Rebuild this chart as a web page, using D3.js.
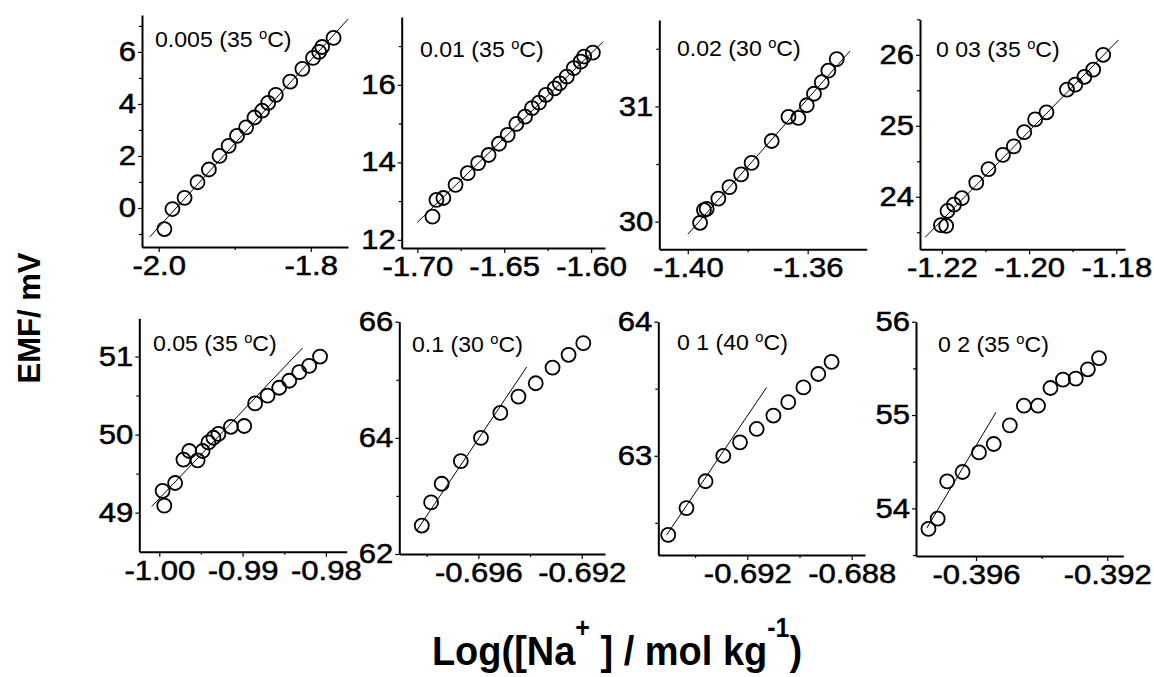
<!DOCTYPE html>
<html>
<head>
<meta charset="utf-8">
<script src="https://cdn.jsdelivr.net/npm/d3@7"></script>
<style>
    body { margin: 0; background: #fff; }
    svg { display: block; font-family: "Liberation Sans", Arial, sans-serif; }
</style>
</head>
<body>
<svg id="chart" width="1154" height="677"></svg>
<script>
// ---- data (x = log m(Na+), y = EMF / mV) ----
const panelLabels = ["0.005", "0.01", "0.02", "0 03", "0.05", "0.1", "0 1", "0 2"]
const panelTemps = ["35", "35", "30", "35", "35", "30", "40", "35"]

const x005 = [-1.9925, -1.982, -1.966, -1.949, -1.934, -1.920, -1.908, -1.897, -1.885, -1.874, -1.864, -1.856, -1.846, -1.827, -1.811, -1.797, -1.789, -1.785, -1.770]
const y005 = [-0.81, -0.04, 0.39, 0.99, 1.48, 2.0, 2.39, 2.77, 3.10, 3.48, 3.74, 4.04, 4.35, 4.86, 5.35, 5.77, 6.0, 6.19, 6.54]
const x01 = [-1.6913, -1.689, -1.685, -1.678, -1.671, -1.665, -1.659, -1.653, -1.648, -1.643, -1.638, -1.634, -1.630, -1.626, -1.621, -1.618, -1.614, -1.610, -1.606, -1.604, -1.599]
const y01 = [12.60, 13.03, 13.08, 13.42, 13.72, 13.98, 14.19, 14.48, 14.71, 14.99, 15.18, 15.40, 15.54, 15.74, 15.91, 16.04, 16.21, 16.43, 16.60, 16.73, 16.83]
const x02 = [-1.3959, -1.3946, -1.3937, -1.3898, -1.3861, -1.3822, -1.3787, -1.3720, -1.3664, -1.3631, -1.3603, -1.3579, -1.3553, -1.3531, -1.3503]
const y02 = [29.99, 30.10, 30.11, 30.20, 30.30, 30.41, 30.51, 30.70, 30.91, 30.90, 31.01, 31.11, 31.21, 31.31, 31.41]
const x03 = [-1.2202, -1.2190, -1.2187, -1.2172, -1.2154, -1.2121, -1.2093, -1.2060, -1.2035, -1.2011, -1.1986, -1.1960, -1.1913, -1.1894, -1.1873, -1.1853, -1.1830]
const y03 = [23.60, 23.59, 23.80, 23.89, 23.98, 24.20, 24.39, 24.59, 24.71, 24.91, 25.09, 25.19, 25.51, 25.58, 25.69, 25.79, 26.0]
const x05 = [-0.9994, -0.9996, -0.9981, -0.9971, -0.9964, -0.9954, -0.9948, -0.9941, -0.9935, -0.9929, -0.9914, -0.9898, -0.9885, -0.9870, -0.9856, -0.9844, -0.9832, -0.9820, -0.9807]
const y05 = [49.09, 49.28, 49.38, 49.68, 49.79, 49.67, 49.79, 49.90, 49.96, 50.01, 50.10, 50.11, 50.40, 50.50, 50.60, 50.69, 50.80, 50.88, 51.0]
const x1a = [-0.69819, -0.69783, -0.69742, -0.69668, -0.69590, -0.69515, -0.69445, -0.69378, -0.69313, -0.69251, -0.69194]
const y1a = [62.49, 62.89, 63.21, 63.60, 64.0, 64.43, 64.71, 64.94, 65.21, 65.43, 65.63]
const x1b = [-0.69503, -0.69433, -0.69360, -0.69292, -0.69228, -0.69164, -0.69100, -0.69043, -0.68985, -0.68928, -0.68877]
const y1b = [62.41, 62.61, 62.81, 63.0, 63.10, 63.20, 63.30, 63.40, 63.51, 63.61, 63.70]
const x2 = [-0.39745, -0.39717, -0.39688, -0.39641, -0.39591, -0.39546, -0.39497, -0.39454, -0.39411, -0.39373, -0.39335, -0.39296, -0.39259, -0.39225]
const y2 = [53.78, 53.89, 54.29, 54.39, 54.60, 54.69, 54.89, 55.10, 55.10, 55.29, 55.38, 55.39, 55.49, 55.61]

// straight fit lines (two end points each)
const fitX = [[-2.012, -1.751], [-1.70, -1.5929], [-1.40, -1.3459], [-1.2238, -1.1795],
              [-1.0009, -0.9828], [-0.69839, -0.69413], [-0.69509, -0.69126], [-0.39750, -0.39539]]
const fitY = [[-1.12, 7.26], [12.45, 17.12], [29.89, 31.48], [23.43, 26.21],
              [49.08, 51.11], [62.40, 65.22], [62.41, 63.51], [53.79, 55.03]]

// axis settings
const xDomains = [[-2.022, -1.751], [-1.709, -1.592], [-1.4095, -1.3403], [-1.225, -1.178],
                  [-1.0024, -0.9775], [-0.69906, -0.6911], [-0.69541, -0.68749], [-0.39783, -0.39151]]
const yDomains = [[-1.5, 7.42], [11.79, 17.75], [29.76, 31.75], [23.26, 26.5],
                  [48.5, 51.49], [62, 66], [62.26, 64], [53.49, 56]]
const xTicks = [[-2.0, -1.8], [-1.70, -1.65, -1.60], [-1.40, -1.36], [-1.22, -1.20, -1.18],
                [-1.00, -0.99, -0.98], [-0.696, -0.692], [-0.692, -0.688], [-0.396, -0.392]]
const xMinor = [[-1.9], [-1.675, -1.625], [-1.38], [-1.21, -1.19],
                [-0.995, -0.985], [-0.698, -0.694], [-0.694, -0.690], [-0.394]]
const xFormats = [".1f", ".2f", ".2f", ".2f", ".2f", ".3f", ".3f", ".3f"]
const yTicks = [[0, 2, 4, 6], [12, 14, 16], [30, 31], [24, 25, 26],
                [49, 50, 51], [62, 64, 66], [63, 64], [54, 55, 56]]
const yMinor = [[-1, 1, 3, 5, 7], [13, 15, 17], [30.5, 31.5], [23.5, 24.5, 25.5, 26.5],
                [49.5, 50.5], [63, 65], [62.5, 63.5], [53.5, 54.5, 55.5]]

// ---- layout: pixel box of each panel (left = y axis, bottom = x axis) ----
const boxes = [
    {left: 142, top: 15, right: 348, bottom: 247, lx: 155, ly: 47},
    {left: 401.7, top: 17, right: 605, bottom: 248, lx: 420, ly: 57},
    {left: 659.3, top: 20, right: 866.7, bottom: 249.3, lx: 677, ly: 56},
    {left: 920, top: 19.3, right: 1125, bottom: 249.3, lx: 936, ly: 57},
    {left: 139.3, top: 318.3, right: 346.7, bottom: 551.7, lx: 153, ly: 351},
    {left: 399.3, top: 321.7, right: 605, bottom: 554, lx: 412, ly: 352},
    {left: 658.3, top: 321.7, right: 865, bottom: 555, lx: 677, ly: 350},
    {left: 916, top: 321.7, right: 1123.3, bottom: 556, lx: 938, ly: 352}
]
const seriesX = [x005, x01, x02, x03, x05, x1a, x1b, x2]
const seriesY = [y005, y01, y02, y03, y05, y1a, y1b, y2]

const config = {
    tickFont: 27,
    tickStretch: 1.15,
    labelFont: 22,
    labelStretch: 1.05,
    radius: 7
}

const locale = d3.formatLocale({decimal: ".", thousands: ",", grouping: [3], currency: ["", ""], minus: "-"})
const svg = d3.select("#chart")

boxes.forEach((b, i) => {
    const x = d3.scaleLinear().domain(xDomains[i]).range([b.left, b.right])
    const y = d3.scaleLinear().domain(yDomains[i]).range([b.bottom, b.top])
    const g = svg.append("g")

    // minor ticks first, so the main axis line sits on top
    g.append("g")
        .attr("transform", `translate(0,${b.bottom})`)
        .call(d3.axisBottom(x).tickValues(xMinor[i]).tickSize(3).tickSizeOuter(0).tickFormat(""))
        .call(a => a.select(".domain").remove())
    g.append("g")
        .attr("transform", `translate(${b.left},0)`)
        .call(d3.axisLeft(y).tickValues(yMinor[i]).tickSize(3).tickSizeOuter(0).tickFormat(""))
        .call(a => a.select(".domain").remove())

    const xAxis = g.append("g")
        .attr("transform", `translate(0,${b.bottom})`)
        .call(d3.axisBottom(x).tickValues(xTicks[i]).tickSize(5).tickSizeOuter(0)
            .tickPadding(4).tickFormat(locale.format(xFormats[i])))
    const yAxis = g.append("g")
        .attr("transform", `translate(${b.left},0)`)
        .call(d3.axisLeft(y).tickValues(yTicks[i]).tickSize(4).tickSizeOuter(0)
            .tickPadding(2).tickFormat(locale.format("d")))

    // styling of both axes
    ;[xAxis, yAxis].forEach(a => {
        a.select(".domain").attr("stroke", "#000").attr("stroke-width", 2)
        a.selectAll(".tick text")
            .attr("fill", "#000")
            .attr("stroke", "#000")
            .attr("stroke-width", 0.5)
            .attr("font-family", "Liberation Sans, Arial, sans-serif")
            .attr("font-size", config.tickFont)
    })
    g.selectAll(".tick line").attr("stroke", "#000").attr("stroke-width", 1.2)
    xAxis.selectAll(".tick text").attr("transform", `scale(${config.tickStretch},1)`)
    yAxis.selectAll(".tick text")
        .attr("x", -6 / config.tickStretch)
        .attr("transform", `scale(${config.tickStretch},1)`)

    // fitted line
    g.append("line")
        .attr("x1", x(fitX[i][0])).attr("y1", y(fitY[i][0]))
        .attr("x2", x(fitX[i][1])).attr("y2", y(fitY[i][1]))
        .attr("stroke", "#000")
        .attr("stroke-width", 1)

    // open circles
    g.selectAll("circle")
        .data(d3.range(seriesX[i].length))
        .join("circle")
        .attr("cx", k => x(seriesX[i][k]))
        .attr("cy", k => y(seriesY[i][k]))
        .attr("r", config.radius)
        .attr("fill", "none")
        .attr("stroke", "#000")
        .attr("stroke-width", 1.8)

    // panel label, e.g. 0.005 (35 °C)
    const t = g.append("text")
        .attr("transform", `translate(${b.lx},${b.ly}) scale(${config.labelStretch},1)`)
        .attr("font-size", config.labelFont)
        .attr("fill", "#000")
    t.append("tspan").text(`${panelLabels[i]} (${panelTemps[i]} `)
    t.append("tspan").attr("font-size", 14).attr("dy", -8).text("o")
    t.append("tspan").attr("dy", 8).text("C)")
})

// axis titles
svg.append("text")
    .attr("transform", "translate(40,318) rotate(-90)")
    .attr("text-anchor", "middle")
    .attr("font-size", 31)
    .attr("font-weight", "bold")
    .text("EMF/ mV")

const title = svg.append("text")
    .attr("transform", "translate(617,665) scale(1,1.08)")
    .attr("text-anchor", "middle")
    .attr("font-size", 38)
    .attr("font-weight", "bold")
title.append("tspan").text("Log([Na")
title.append("tspan").attr("font-size", 25).attr("dy", -26).text("+")
title.append("tspan").attr("dy", 26).text(" ] / mol kg")
title.append("tspan").attr("font-size", 25).attr("dy", -26).text("-1")
title.append("tspan").attr("dy", 26).text(")")
</script>
</body>
</html>
